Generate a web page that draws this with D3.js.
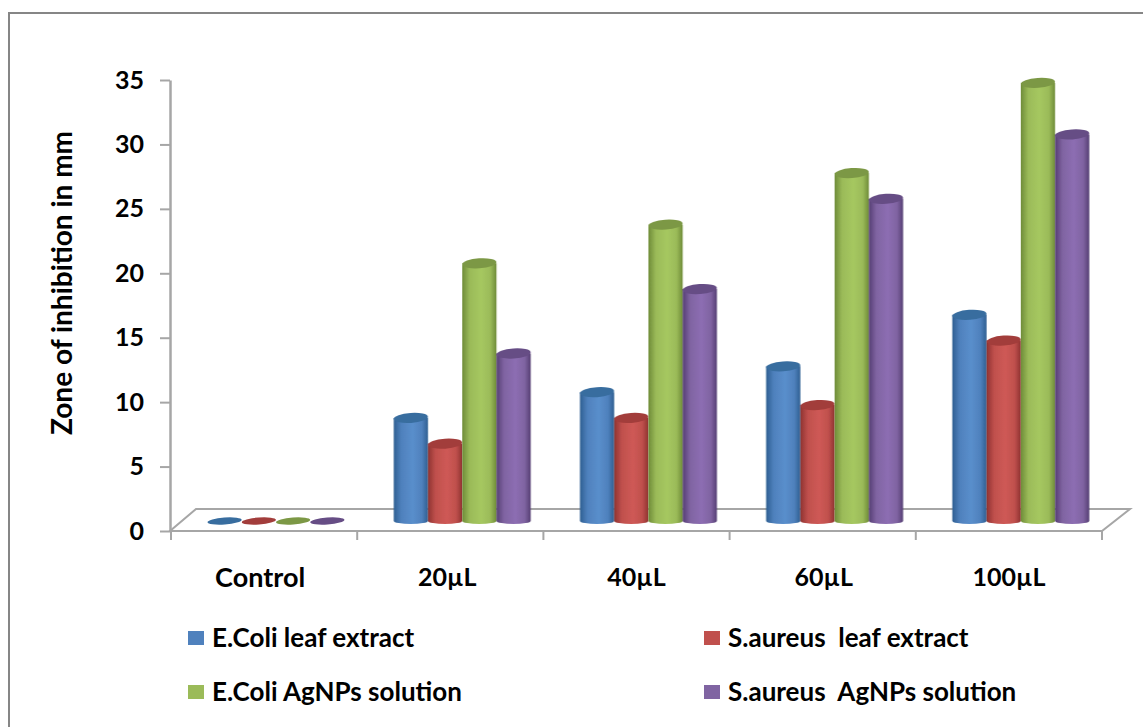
<!DOCTYPE html>
<html>
<head>
<meta charset="utf-8">
<script src="https://cdn.jsdelivr.net/npm/d3@7"></script>
<style>
  html, body { margin: 0; padding: 0; background: #fff; overflow: hidden; }
  svg { display: block; }
  text { font-family: Lato, "Open Sans", sans-serif; font-weight: 700; fill: #000; }
</style>
</head>
<body>
<div class="chart"></div>
<script>
// values
var categories = ["Control", "20µL", "40µL", "60µL", "100µL"];
var ecoliLeaf = [0, 8, 10, 12, 16];
var saureusLeaf = [0, 6, 8, 9, 14];
var ecoliAg = [0, 20, 23, 27, 34];
var saureusAg = [0, 13, 18, 25, 30];
var yTicks = [0, 5, 10, 15, 20, 25, 30, 35];
var seriesNames = ["E.Coli leaf extract", "S.aureus  leaf extract", "E.Coli AgNPs solution", "S.aureus  AgNPs solution"];

var width = 1143;
var height = 727;

var series = [
  {name: seriesNames[0], values: ecoliLeaf, mid: "#4f81bd", light: "#5a8fcc", dark: "#2f5f92", top: "#386d9f"},
  {name: seriesNames[1], values: saureusLeaf, mid: "#c0504d", light: "#cf5a56", dark: "#8f3331", top: "#a23c3a"},
  {name: seriesNames[2], values: ecoliAg, mid: "#9bbb59", light: "#a6c860", dark: "#6f8c39", top: "#7c9845"},
  {name: seriesNames[3], values: saureusAg, mid: "#8064a2", light: "#8d6eb3", dark: "#563f74", top: "#664d85"}
];

var svg = d3.select(".chart")
  .append("svg")
  .attr("width", width)
  .attr("height", height);

var defs = svg.append("defs");

// soft edge like the scaled up original
defs.append("filter").attr("id", "soft")
  .append("feGaussianBlur").attr("stdDeviation", 0.7);

series.forEach((s, i) => {
  var grad = defs.append("linearGradient").attr("id", "cyl" + i);
  grad.append("stop").attr("offset", "0%").attr("stop-color", s.dark);
  grad.append("stop").attr("offset", "22%").attr("stop-color", s.mid);
  grad.append("stop").attr("offset", "55%").attr("stop-color", s.light);
  grad.append("stop").attr("offset", "82%").attr("stop-color", s.mid);
  grad.append("stop").attr("offset", "100%").attr("stop-color", s.dark);
});

// outer frame, runs off the right and bottom of the picture
svg.append("rect")
  .attr("x", 9)
  .attr("y", 13)
  .attr("width", 1160)
  .attr("height", 760)
  .attr("fill", "none")
  .attr("stroke", "#868686")
  .attr("stroke-width", 2);

var yScale = d3.scaleLinear().domain([0, 35]).range([531, 80]);
var xScale0 = d3.scaleBand().domain(categories).range([171, 1102]);
var xScale1 = d3.scaleBand().domain(d3.range(series.length)).range([36.5, 173.5]);

var floorLift = 10;   // bars stand back from the front edge of the floor
var axisColor = "#a6a6a6";

// floor of the 3d plot
var frontY = yScale(0);
var backY = frontY - 22;
var floor = [[170, frontY], [1102, frontY], [1130, backY], [196, backY]];
svg.append("path")
  .attr("d", d3.line()(floor) + "Z")
  .attr("fill", "#fff")
  .attr("stroke", axisColor)
  .attr("stroke-width", 2);

// Add the Y Axis
var yAxis = d3.axisLeft(yScale).tickValues(yTicks).tickSize(10).tickPadding(16).tickSizeOuter(0);
var yG = svg.append("g")
  .attr("transform", "translate(170,0)")
  .call(yAxis);
yG.select(".domain").attr("stroke", axisColor).attr("stroke-width", 2.5);
yG.selectAll(".tick line").attr("stroke", axisColor).attr("stroke-width", 2);
yG.selectAll(".tick text").style("font-size", "25px");

// Add the X Axis
var xAxis = d3.axisBottom(xScale0).tickSize(0).tickPadding(37);
var xG = svg.append("g")
  .attr("transform", `translate(0,${frontY})`)
  .call(xAxis);
xG.select(".domain").remove();
// labels are not quite centred on the bands in the original
var labelNudge = [-4, -3, 0, 1, 0];
xG.selectAll(".tick text")
  .style("font-size", d => d == "Control" ? "27px" : "25px")
  .attr("dx", (d, i) => labelNudge[i]);

// tick marks sit on the band edges
var edges = categories.map(c => xScale0(c)).concat([xScale0.range()[1]]);
svg.selectAll(".xtick")
  .data(edges)
  .enter().append("line")
  .attr("class", "xtick")
  .attr("x1", d => d)
  .attr("x2", d => d)
  .attr("y1", frontY)
  .attr("y2", frontY + 9)
  .attr("stroke", axisColor)
  .attr("stroke-width", 2);

// y axis title
svg.append("text")
  .attr("text-anchor", "middle")
  .attr("transform", "translate(72,283)rotate(-90)")
  .style("font-size", "28px")
  .text("Zone of inhibition in mm");

// cylinders
var groups = svg.selectAll(".group")
  .data(categories)
  .enter().append("g")
  .attr("class", "group")
  .attr("filter", "url(#soft)")
  .attr("transform", d => `translate(${xScale0(d)},0)`);

series.forEach((s, i) => {
  var bw = xScale1.bandwidth();
  var rx = bw / 2;
  var ry = 5;
  groups.each(function(c, j) {
    var v = s.values[j];
    var g = d3.select(this);
    var x = xScale1(i);
    var yTop = yScale(v) - floorLift;
    var yBase = yScale(0) - floorLift;
    if (v > 0) {
      g.append("path")
        .attr("d", `M${x},${yTop}L${x},${yBase}A${rx},3 0 0 0 ${x + bw},${yBase}L${x + bw},${yTop}Z`)
        .attr("fill", `url(#cyl${i})`);
    }
    g.append("ellipse")
      .attr("cx", x + rx)
      .attr("cy", yTop)
      .attr("rx", rx)
      .attr("ry", v > 0 ? ry : 3.5)
      .attr("transform", `rotate(-4,${x + rx},${yTop})`)
      .attr("fill", s.top);
  });
});

// legend
var legendX = [188, 704];
var legendY = [638, 692];
var legend = svg.selectAll(".legend")
  .data(series)
  .enter().append("g")
  .attr("class", "legend")
  .attr("transform", (d, i) => `translate(${legendX[i % 2]},${legendY[Math.floor(i / 2)]})`);

legend.append("rect")
  .attr("x", 0)
  .attr("y", -7)
  .attr("width", 16)
  .attr("height", 14)
  .attr("fill", d => d.mid);

legend.append("text")
  .attr("x", 24)
  .attr("y", 9)
  .attr("xml:space", "preserve")
  .style("white-space", "pre")
  .style("font-size", "26px")
  .text(d => d.name);
</script>
</body>
</html>
